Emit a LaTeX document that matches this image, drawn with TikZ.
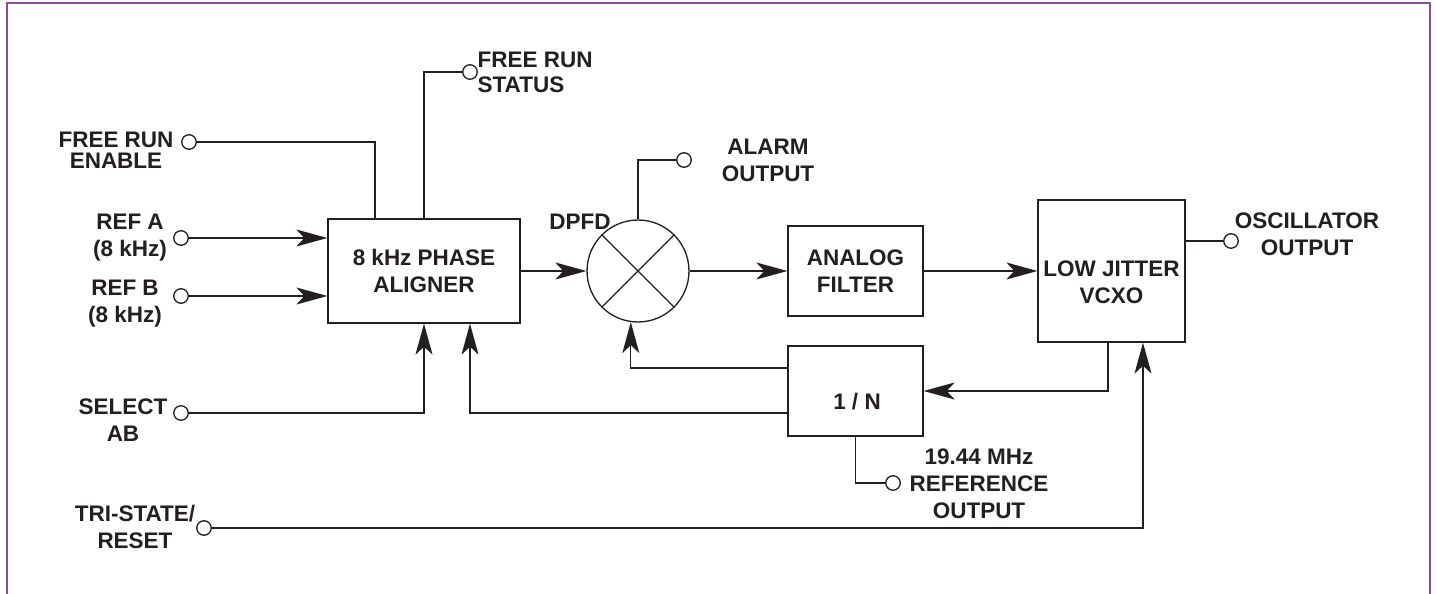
\documentclass[tikz,border=0pt]{standalone}
\usepackage{fontspec}
\setmainfont{Liberation Sans}
\usetikzlibrary{arrows.meta,positioning}
\definecolor{edge}{RGB}{146,72,152}
\definecolor{ink}{RGB}{35,31,32}
\newcommand\lblfont{\fontsize{12.8}{15.4}\selectfont\bfseries}
\begin{document}
\begin{tikzpicture}[x=0.02cm, y=-0.02cm, line width=0.75pt, color=ink,
  box/.style={draw, rectangle, align=center, font=\lblfont, inner sep=0pt},
  pin/.style={draw, circle, fill=white, minimum size=0.29cm, inner sep=0pt},
  lbl/.style={align=center, font=\lblfont, inner sep=0pt},
  sig/.style={-{Stealth[length=0.62cm, width=0.34cm, inset=0.16cm]}}
]
\useasboundingbox (0,0) rectangle (1437,594);
\draw[edge, line width=1.2pt] (7,594) -- (7,3) -- (1430,3) -- (1430,594);

\node[box, minimum width=3.84cm, minimum height=2.08cm] (phase) at (424,271) {8 kHz PHASE\\ALIGNER};
\node[draw, circle, minimum size=2.04cm, inner sep=0pt] (dpfd) at (638,271) {};
\draw (dpfd.45) -- (dpfd.225) (dpfd.135) -- (dpfd.-45);
\node[box, minimum width=2.7cm, minimum height=1.8cm] (filter) at (855.5,271) {ANALOG\\FILTER};
\node[box, minimum width=2.94cm, minimum height=2.84cm] (vcxo) at (1111.5,271) {};
\node[lbl] (vcxotxt) at (1111.5,282) {LOW JITTER\\VCXO};
\node[box, minimum width=2.7cm, minimum height=1.8cm] (divn) at (855.5,391) {};
\node[lbl] (divntxt) at (857,402) {1 / N};

\node[pin] (fre) at (189,142) {};
\node[pin] (frs) at (470,72) {};
\node[pin] (refa) at (181,238) {};
\node[pin] (refb) at (181,296) {};
\node[pin] (sel) at (181,413) {};
\node[pin] (tri) at (204,528) {};
\node[pin] (alm) at (684,160) {};
\node[pin] (osc) at (1231,241) {};
\node[pin] (r19) at (893,483) {};

\node[lbl] (frel) at (116,150) {FREE RUN\\[-0.12cm]ENABLE};
\node[lbl, align=left, anchor=west] (frsl) at (477,72.5) {FREE RUN\\[-0.04cm]STATUS};
\node[lbl] (refal) at (130,238) {REF A\\(8 kHz)};
\node[lbl] (refbl) at (125,304) {REF B\\(8 kHz)};
\node[lbl] (sell) at (123,420) {SELECT\\AB};
\node[lbl] (tril) at (135,527) {TRI-STATE/\\RESET};
\node[lbl] (dpfdl) at (580,222) {DPFD};
\node[lbl] (alml) at (768,160) {ALARM\\OUTPUT};
\node[lbl] (oscl) at (1307,234) {OSCILLATOR\\OUTPUT};
\node[lbl] (r19l) at (979,484) {19.44 MHz\\REFERENCE\\OUTPUT};

\draw (fre) -| ([xshift=-0.98cm]phase.north);
\draw (frs) -| (phase.north);
\draw[sig] (refa) -- (refa -| phase.west);
\draw[sig] (refb) -- (refb -| phase.west);
\draw[sig] (sel) -| (phase.south);
\draw[sig] (phase.east) -- (dpfd.west);
\draw[sig] (dpfd.east) -- (filter.west);
\draw[sig] (filter.east) -- (vcxo.west);
\draw (osc -| vcxo.east) -- (osc);
\draw (dpfd.north) |- (alm);
\draw[sig] ([xshift=-0.07cm]vcxo.south) |- (divn.east);
\draw[sig] ([yshift=0.46cm]divn.west) -| (dpfd.262);
\draw[sig] ([yshift=-0.44cm]divn.west) -| ([xshift=0.92cm]phase.south);
\draw (divn.south) |- (r19);
\draw[sig] (tri) -| ([xshift=0.63cm]vcxo.south);
\end{tikzpicture}
\end{document}
